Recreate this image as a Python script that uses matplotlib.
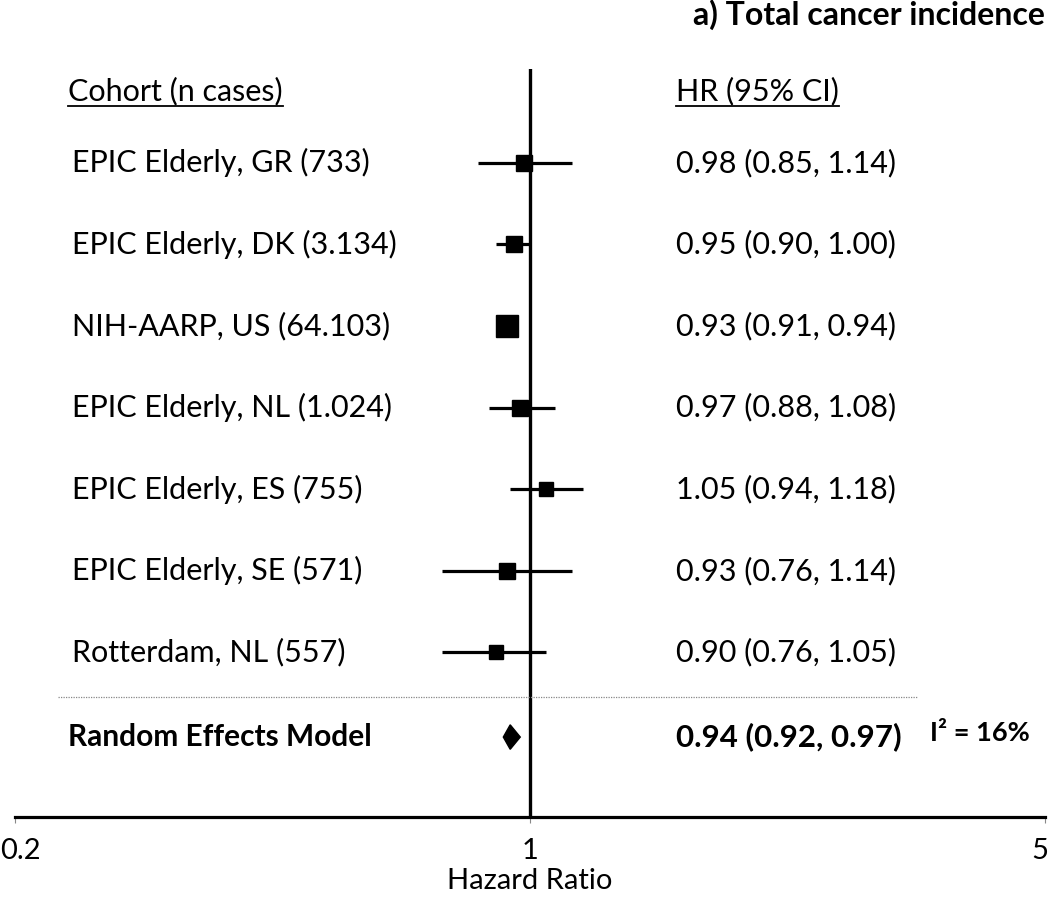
import matplotlib.pyplot as plt
import matplotlib.transforms as mtransforms
from matplotlib.lines import Line2D
from matplotlib.patches import Polygon

plt.rcParams['font.family'] = ['Lato', 'DejaVu Sans']

# data
cohorts = ["EPIC Elderly, GR (733)", "EPIC Elderly, DK (3.134)", "NIH-AARP, US (64.103)",
           "EPIC Elderly, NL (1.024)", "EPIC Elderly, ES (755)", "EPIC Elderly, SE (571)",
           "Rotterdam, NL (557)"]
hr = [0.98, 0.95, 0.93, 0.97, 1.05, 0.93, 0.90]
lo = [0.85, 0.90, 0.91, 0.88, 0.94, 0.76, 0.76]
hi = [1.14, 1.00, 0.94, 1.08, 1.18, 1.14, 1.05]
pooled = (0.94, 0.92, 0.97)
i2 = "I² = 16%"
xticks = [0.2, 1, 5]
xticklabels = ['0.2', '1', '5']

# box size per study (points)
box = [12, 11, 16, 11.5, 10.5, 11, 10]

fig = plt.figure(figsize=(10.5, 9), dpi=100)
ax = fig.add_axes([15/1050, 1-817/900, 1030/1050, (817-69)/900])
ax.set_xscale('log')
ax.set_xlim(0.2, 5)
ax.set_ylim(8.02, -1.15)

for s in ['top', 'right', 'left']:
    ax.spines[s].set_visible(False)
ax.spines['bottom'].set_linewidth(2.3)
ax.set_yticks([])
ax.set_xticks(xticks)
ax.set_xticklabels(xticklabels)
ax.minorticks_off()
ax.tick_params(axis='x', length=4, width=0.8, color='#888888', labelsize=21, pad=11)
ax.set_xlabel("Hazard Ratio", fontsize=21, labelpad=3)

# keep the end labels inside the figure
tl = ax.get_xticklabels()
tl[0].set_ha('left')
tl[0].set_transform(tl[0].get_transform() + mtransforms.ScaledTranslation(-0.15, 0, fig.dpi_scale_trans))
tl[-1].set_ha('right')
tl[-1].set_transform(tl[-1].get_transform() + mtransforms.ScaledTranslation(0.03, 0, fig.dpi_scale_trans))

ax.axvline(1, color='black', lw=2.4, zorder=1)

rows = list(range(len(cohorts)))
for i in rows:
    ax.plot([lo[i], hi[i]], [i, i], color='black', lw=2.3, solid_capstyle='butt', zorder=2)
    ax.plot(hr[i], i, marker='s', ms=box[i], color='black', zorder=3)

# pooled diamond
ys = 7.04
d = 0.15
ax.add_patch(Polygon([[pooled[1], ys], [pooled[0], ys-d], [pooled[2], ys], [pooled[0], ys+d]],
                     closed=True, color='black', zorder=3))

# separator
trans = mtransforms.blended_transform_factory(fig.transFigure, ax.transData)
ax.add_line(Line2D([58/1050, 918/1050], [6.55, 6.55], transform=trans, color='#888888',
                   lw=0.9, ls=(0, (1, 1)), clip_on=False))

fs = 22
h1 = ax.text(68/1050, -0.88, "Cohort (n cases)", transform=trans, fontsize=fs, va='center')
h2 = ax.text(676/1050, -0.88, "HR (95% CI)", transform=trans, fontsize=fs, va='center')
for i in rows:
    ax.text(72/1050, i, cohorts[i], transform=trans, fontsize=fs, va='center')
    ax.text(676/1050, i, f"{hr[i]:.2f} ({lo[i]:.2f}, {hi[i]:.2f})", transform=trans,
            fontsize=fs, va='center')
ax.text(68/1050, ys, "Random Effects Model", transform=trans, fontsize=21.5, va='center',
        fontweight='bold')
ax.text(676/1050, ys, f"{pooled[0]:.2f} ({pooled[1]:.2f}, {pooled[2]:.2f})", transform=trans,
        fontsize=22.5, va='center', fontweight='bold')
ax.text(930/1050, ys - 0.05, i2, transform=trans, fontsize=19.5, va='center', fontweight='bold')

fig.text(1045/1050, 1-15/900, "a) Total cancer incidence", ha='right', va='center',
         fontsize=23, fontweight='bold')

# underline the headers
fig.canvas.draw()
r = fig.canvas.get_renderer()
for t in (h1, h2):
    bb = t.get_window_extent(renderer=r)
    yline = bb.y0 - 1
    fig.add_artist(Line2D([bb.x0/fig.bbox.width, bb.x1/fig.bbox.width],
                          [yline/fig.bbox.height]*2, transform=fig.transFigure,
                          color='black', lw=1.3))

fig.savefig("out.png", dpi=100)
